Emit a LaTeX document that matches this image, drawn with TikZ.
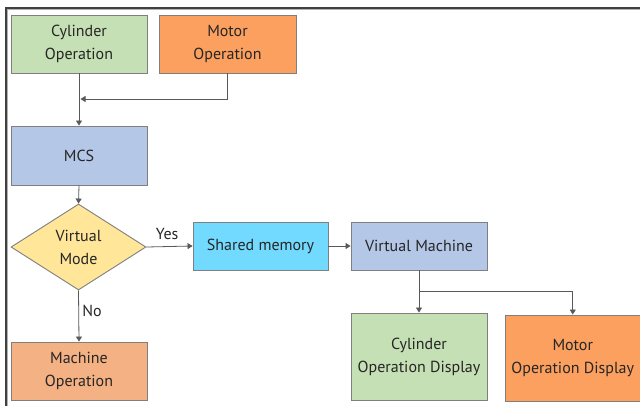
\documentclass[tikz,border=0pt]{standalone}
\usepackage{fontspec}
\setmainfont{PT Sans}
\usetikzlibrary{shapes.geometric,arrows.meta}
\definecolor{boxgreen}{HTML}{C5E0B4}
\definecolor{boxorange}{HTML}{FBA05E}
\definecolor{boxpeach}{HTML}{F4B183}
\definecolor{boxblue}{HTML}{B4C7E7}
\definecolor{boxcyan}{HTML}{72D9FF}
\definecolor{boxyellow}{HTML}{FFE699}
\definecolor{edgegray}{HTML}{7F7F7F}
\definecolor{linegray}{HTML}{595959}
\tikzset{
  box/.style={draw=edgegray, line width=0.9pt, rectangle, inner sep=2pt,
    align=center, font=\fontsize{16}{23}\selectfont, text=black!85},
  decision/.style={draw=edgegray, line width=0.9pt, diamond, inner sep=0pt,
    aspect=1.57, minimum width=135pt, minimum height=86pt, fill=boxyellow,
    align=center, font=\fontsize{16}{23}\selectfont, text=black!85},
  arr/.style={draw=linegray, line width=0.8pt, -{Triangle[width=6pt,length=5pt]}},
  conn/.style={draw=linegray, line width=0.8pt},
  lbl/.style={font=\fontsize{16}{20}\selectfont, text=black!85}
}
\begin{document}
\begin{tikzpicture}[x=1pt,y=-1pt]
\useasboundingbox (0,0) rectangle (640,405);
% outer frame (top and left edges)
\draw[black!30, line width=1pt] (7.8,420) |- (660,9.8);
\draw[black!75, line width=1.4pt] (6,420) |- (660,8);

% boxes
\node[box, fill=boxgreen, minimum width=136pt, minimum height=58pt] (cyl) at (79,44) {Cylinder\\Operation};
\node[box, fill=boxorange, minimum width=137pt, minimum height=58pt] (mot) at (227.5,44) {Motor\\Operation};
\node[box, fill=boxblue, minimum width=136pt, minimum height=59pt] (mcs) at (79,155.5) {MCS};
\node[decision] (dia) at (78.5,247) {Virtual\\Mode};
\node[box, fill=boxcyan, minimum width=135pt, minimum height=48pt] (shm) at (260.5,246) {Shared memory};
\node[box, fill=boxblue, minimum width=136pt, minimum height=48pt] (vm) at (419,246) {Virtual Machine};
\node[box, fill=boxgreen, minimum width=136pt, minimum height=87pt] (cyld) at (419,356.5) {Cylinder\\Operation Display};
\node[box, fill=boxorange, minimum width=135.5pt, minimum height=86pt] (motd) at (572.75,358) {Motor\\Operation Display};
\node[box, fill=boxpeach, minimum width=136pt, minimum height=58pt] (mach) at (79,371) {Machine\\Operation};

% junction points
\coordinate (j1) at (80.5,99);
\coordinate (j2) at (419,291);

% connectors
\draw[arr] (cyl.south) -- (mcs.north);
\draw[arr] (mot.south) |- (j1);
\draw[arr] (mcs.south) -- (dia.north);
\draw[arr] (dia.east) -- node[lbl, above=3pt, pos=0.45] {Yes} (shm.west);
\draw[arr] (shm.east) -- (vm.west);
\draw[conn] (vm.south) -- (j2);
\draw[arr] (j2) -- (cyld.north);
\draw[arr] (j2) -| (motd.north);
\draw[arr] (dia.south) -- node[lbl, right, pos=0.4] {No} (mach.north);
\end{tikzpicture}
\end{document}
